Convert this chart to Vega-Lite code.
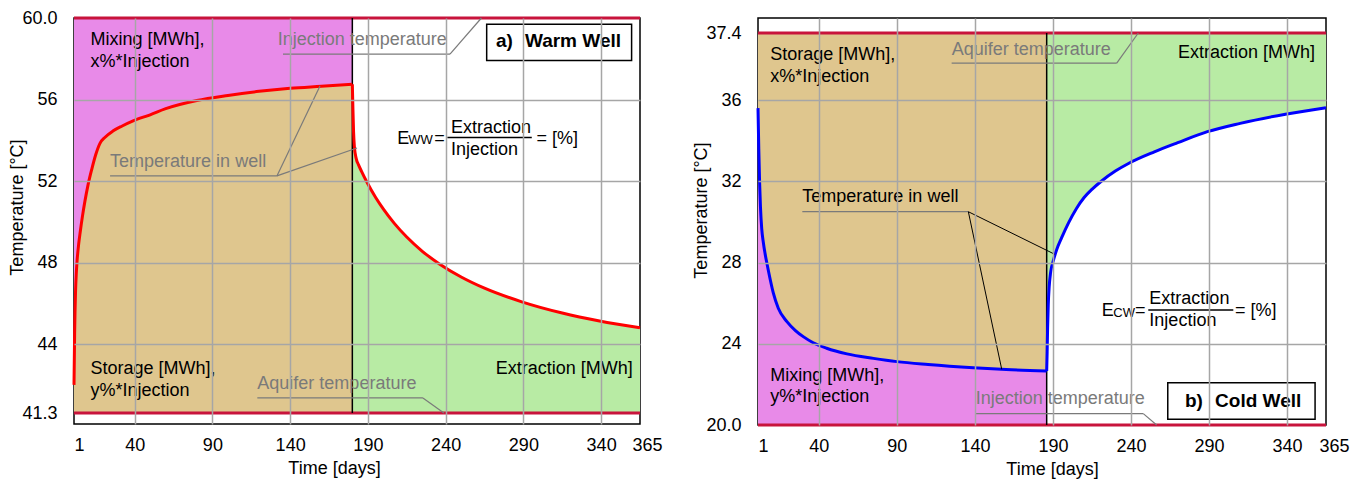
{
  "$schema": "https://vega.github.io/schema/vega-lite/v6.json",
  "background": "white",
  "padding": {"left": 8, "top": 8, "right": 5, "bottom": 3},
  "bounds": "flush",
  "spacing": 118,
  "config": {
    "font": "Liberation Sans",
    "view": {"stroke": "black", "strokeWidth": 1.5},
    "axis": {
      "labelFont": "Liberation Sans", "labelFontSize": 18, "labelColor": "#000000",
      "titleFont": "Liberation Sans", "titleFontSize": 18, "titleFontWeight": "normal", "titleColor": "#000000",
      "ticks": false, "domain": false, "grid": true, "gridColor": "#a6a6a6", "gridWidth": 1.5
    },
    "axisX": {"labelPadding": 12, "titlePadding": 5, "labelFlush": false},
    "axisY": {"labelPadding": 17, "titlePadding": -5},
    "text": {"font": "Liberation Sans", "fontSize": 18, "align": "left", "baseline": "middle"}
  },
  "datasets": {
    "warm": [
      {"day": 1, "T": 42.4, "phase": "inj"},
      {"day": 1.4, "T": 44.5, "phase": "inj"},
      {"day": 2, "T": 46.6, "phase": "inj"},
      {"day": 2.5, "T": 47.5, "phase": "inj"},
      {"day": 3, "T": 48.1, "phase": "inj"},
      {"day": 4, "T": 48.9, "phase": "inj"},
      {"day": 5, "T": 49.5, "phase": "inj"},
      {"day": 6.5, "T": 50.3, "phase": "inj"},
      {"day": 8, "T": 51.0, "phase": "inj"},
      {"day": 10, "T": 51.8, "phase": "inj"},
      {"day": 12.5, "T": 52.6, "phase": "inj"},
      {"day": 15, "T": 53.3, "phase": "inj"},
      {"day": 17.7, "T": 53.85, "phase": "inj"},
      {"day": 21, "T": 54.15, "phase": "inj"},
      {"day": 26, "T": 54.45, "phase": "inj"},
      {"day": 32, "T": 54.7, "phase": "inj"},
      {"day": 39, "T": 54.95, "phase": "inj"},
      {"day": 50, "T": 55.25, "phase": "inj"},
      {"day": 60, "T": 55.55, "phase": "inj"},
      {"day": 80, "T": 55.95, "phase": "inj"},
      {"day": 100, "T": 56.2, "phase": "inj"},
      {"day": 120, "T": 56.4, "phase": "inj"},
      {"day": 140, "T": 56.55, "phase": "inj"},
      {"day": 160, "T": 56.65, "phase": "inj"},
      {"day": 180, "T": 56.75, "phase": "inj"},
      {"day": 180, "T": 56.75, "phase": "ext"},
      {"day": 180.4, "T": 55.5, "phase": "ext"},
      {"day": 180.8, "T": 54.4, "phase": "ext"},
      {"day": 181.3, "T": 53.7, "phase": "ext"},
      {"day": 182.5, "T": 53.1, "phase": "ext"},
      {"day": 184, "T": 52.79, "phase": "ext"},
      {"day": 186, "T": 52.46, "phase": "ext"},
      {"day": 189, "T": 52.0, "phase": "ext"},
      {"day": 195, "T": 51.19, "phase": "ext"},
      {"day": 200, "T": 50.62, "phase": "ext"},
      {"day": 207, "T": 49.92, "phase": "ext"},
      {"day": 215, "T": 49.25, "phase": "ext"},
      {"day": 225, "T": 48.55, "phase": "ext"},
      {"day": 236, "T": 47.93, "phase": "ext"},
      {"day": 250, "T": 47.29, "phase": "ext"},
      {"day": 265, "T": 46.74, "phase": "ext"},
      {"day": 289, "T": 46.07, "phase": "ext"},
      {"day": 315, "T": 45.52, "phase": "ext"},
      {"day": 339, "T": 45.13, "phase": "ext"},
      {"day": 365, "T": 44.8, "phase": "ext"}
    ],
    "cold": [
      {"day": 1, "T": 35.6, "phase": "inj"},
      {"day": 1.5, "T": 33.6, "phase": "inj"},
      {"day": 2, "T": 32.0, "phase": "inj"},
      {"day": 2.6, "T": 30.7, "phase": "inj"},
      {"day": 3.4, "T": 29.65, "phase": "inj"},
      {"day": 4.4, "T": 29.0, "phase": "inj"},
      {"day": 5.5, "T": 28.45, "phase": "inj"},
      {"day": 7, "T": 27.85, "phase": "inj"},
      {"day": 9, "T": 27.1, "phase": "inj"},
      {"day": 10.8, "T": 26.5, "phase": "inj"},
      {"day": 14, "T": 25.75, "phase": "inj"},
      {"day": 19.4, "T": 25.1, "phase": "inj"},
      {"day": 25, "T": 24.65, "phase": "inj"},
      {"day": 30, "T": 24.35, "phase": "inj"},
      {"day": 36.4, "T": 24.05, "phase": "inj"},
      {"day": 45, "T": 23.78, "phase": "inj"},
      {"day": 58, "T": 23.5, "phase": "inj"},
      {"day": 75, "T": 23.28, "phase": "inj"},
      {"day": 90, "T": 23.12, "phase": "inj"},
      {"day": 110, "T": 22.98, "phase": "inj"},
      {"day": 139, "T": 22.82, "phase": "inj"},
      {"day": 160, "T": 22.73, "phase": "inj"},
      {"day": 186, "T": 22.66, "phase": "inj"},
      {"day": 186, "T": 22.66, "phase": "ext"},
      {"day": 186.3, "T": 23.6, "phase": "ext"},
      {"day": 186.6, "T": 24.8, "phase": "ext"},
      {"day": 187, "T": 25.9, "phase": "ext"},
      {"day": 187.6, "T": 26.8, "phase": "ext"},
      {"day": 188.5, "T": 27.5, "phase": "ext"},
      {"day": 190.3, "T": 28.1, "phase": "ext"},
      {"day": 192.5, "T": 28.65, "phase": "ext"},
      {"day": 195.6, "T": 29.22, "phase": "ext"},
      {"day": 200, "T": 29.95, "phase": "ext"},
      {"day": 205, "T": 30.65, "phase": "ext"},
      {"day": 210, "T": 31.2, "phase": "ext"},
      {"day": 215, "T": 31.6, "phase": "ext"},
      {"day": 221, "T": 32.0, "phase": "ext"},
      {"day": 230, "T": 32.5, "phase": "ext"},
      {"day": 239, "T": 32.9, "phase": "ext"},
      {"day": 255, "T": 33.45, "phase": "ext"},
      {"day": 270, "T": 33.9, "phase": "ext"},
      {"day": 289, "T": 34.44, "phase": "ext"},
      {"day": 310, "T": 34.85, "phase": "ext"},
      {"day": 339, "T": 35.3, "phase": "ext"},
      {"day": 365, "T": 35.62, "phase": "ext"}
    ],
    "warmLevels": [
      {"day": 1, "T": 60, "day2": 365, "T2": 60, "name": "Injection temperature"},
      {"day": 1, "T": 41.3, "day2": 365, "T2": 41.3, "name": "Aquifer temperature"}
    ],
    "warmDivider": [{"day": 180, "T": 41.3, "day2": 180, "T2": 60}],
    "warmLeaders": [
      {"day": 135.4, "T": 58.23, "day2": 242.8, "T2": 58.23},
      {"day": 242.8, "T": 58.23, "day2": 263.0, "T2": 60},
      {"day": 24.2, "T": 52.25, "day2": 131.5, "T2": 52.25},
      {"day": 131.5, "T": 52.25, "day2": 159.2, "T2": 56.66},
      {"day": 131.5, "T": 52.25, "day2": 183.0, "T2": 53.62},
      {"day": 118.9, "T": 41.89, "day2": 225.4, "T2": 41.89},
      {"day": 225.4, "T": 41.89, "day2": 238.9, "T2": 41.3}
    ],
    "warmBlack": [
      {"day": 11.6, "T": 58.94, "text": "Mixing [MWh],"},
      {"day": 11.6, "T": 57.84, "text": "x%*Injection"},
      {"day": 11.6, "T": 43.01, "text": "Storage [MWh],"},
      {"day": 11.6, "T": 42.16, "text": "y%*Injection"}
    ],
    "warmRight": [{"day": 360.3, "T": 43.01, "text": "Extraction [MWh]"}],
    "warmGray": [
      {"day": 132.0, "T": 58.9, "text": "Injection temperature"},
      {"day": 24.2, "T": 52.93, "text": "Temperature in well"},
      {"day": 118.9, "T": 42.45, "text": "Aquifer temperature"}
    ],
    "warmFormula": [
      {"day": 208.9, "T": 54.08, "text": "E"},
      {"day": 232.7, "T": 54.08, "text": "="},
      {"day": 243.4, "T": 54.6, "text": "Extraction"},
      {"day": 243.4, "T": 53.53, "text": "Injection"},
      {"day": 298.5, "T": 54.05, "text": "= [%]"}
    ],
    "warmSub": [{"day": 216.0, "T": 53.99, "text": "WW"}],
    "warmBar": [{"day": 241.1, "T": 54.13, "day2": 295.4, "T2": 54.13}],
    "warmBox": [{"day": 266.4, "T": 59.69, "day2": 359.6, "T2": 57.92}],
    "warmBoxText": [
      {"day": 272.4, "T": 58.87, "text": "a)"},
      {"day": 291.0, "T": 58.87, "text": "Warm Well"}
    ],
    "coldLevels": [
      {"day": 1, "T": 37.4, "day2": 365, "T2": 37.4, "name": "Aquifer temperature"},
      {"day": 1, "T": 20, "day2": 365, "T2": 20, "name": "Injection temperature"}
    ],
    "coldDivider": [{"day": 186, "T": 20, "day2": 186, "T2": 37.4}],
    "coldLeadersGray": [
      {"day": 125.1, "T": 36.77, "day2": 230.9, "T2": 36.77},
      {"day": 230.9, "T": 36.77, "day2": 244.7, "T2": 37.4},
      {"day": 29.4, "T": 30.5, "day2": 135.8, "T2": 30.5},
      {"day": 140.5, "T": 20.56, "day2": 247.9, "T2": 20.56},
      {"day": 247.9, "T": 20.56, "day2": 256.5, "T2": 20}
    ],
    "coldLeadersBlack": [
      {"day": 135.8, "T": 30.5, "day2": 157.2, "T2": 22.74},
      {"day": 135.8, "T": 30.5, "day2": 191.3, "T2": 28.4}
    ],
    "coldBlack": [
      {"day": 8.9, "T": 36.95, "text": "Storage [MWh],"},
      {"day": 8.9, "T": 36.49, "text": "x%*Injection"},
      {"day": 29.4, "T": 31.21, "text": "Temperature in well"},
      {"day": 8.9, "T": 22.43, "text": "Mixing [MWh],"},
      {"day": 8.9, "T": 21.36, "text": "y%*Injection"}
    ],
    "coldRight": [{"day": 358.0, "T": 36.99, "text": "Extraction [MWh]"}],
    "coldGray": [
      {"day": 125.1, "T": 37.04, "text": "Aquifer temperature"},
      {"day": 140.5, "T": 21.26, "text": "Injection temperature"}
    ],
    "coldFormula": [
      {"day": 221.3, "T": 25.63, "text": "E"},
      {"day": 242.6, "T": 25.63, "text": "="},
      {"day": 251.8, "T": 26.2, "text": "Extraction"},
      {"day": 251.8, "T": 25.1, "text": "Injection"},
      {"day": 306.7, "T": 25.6, "text": "= [%]"}
    ],
    "coldSub": [{"day": 228.7, "T": 25.49, "text": "CW"}],
    "coldBar": [{"day": 251.1, "T": 25.66, "day2": 305.6, "T2": 25.66}],
    "coldBox": [{"day": 263.6, "T": 22.08, "day2": 358.0, "T2": 20.28}],
    "coldBoxText": [
      {"day": 274.6, "T": 21.18, "text": "b)"},
      {"day": 293.9, "T": 21.18, "text": "Cold Well"}
    ]
  },
  "hconcat": [
    {
      "width": 566,
      "height": 406,
      "encoding": {
        "x": {
          "field": "day", "type": "quantitative",
          "scale": {"domain": [1, 365], "nice": false, "zero": false},
          "axis": {
            "title": "Time [days]",
            "titleX": 260,
            "zindex": 1,
            "values": [1, 40, 90, 140, 190, 240, 290, 340, 365],
            "gridOpacity": {"condition": {"test": "datum.value == 1 || datum.value == 365", "value": 0}, "value": 1},
            "labelAlign": {"condition": {"test": "datum.value == 1", "value": "left"}, "value": "center"},
            "labelOffset": {"condition": {"test": "datum.value == 365", "value": 7}, "value": 0}
          }
        },
        "y": {
          "field": "T", "type": "quantitative",
          "scale": {"domain": [40.87, 41.3, 44, 60], "range": [406, 395, 326, 0], "nice": false, "zero": false},
          "axis": {
            "title": "Temperature [°C]",
            "titleY": 189,
            "zindex": 1,
            "values": [41.3, 44, 48, 52, 56, 60],
            "labelExpr": "datum.value == 60 ? '60.0' : (datum.value == 41.3 ? '41.3' : format(datum.value, 'd'))",
            "gridOpacity": {"condition": {"test": "datum.value == 60 || datum.value == 41.3", "value": 0}, "value": 1}
          }
        }
      },
      "layer": [
        {"data": {"name": "warm"}, "transform": [{"filter": "datum.phase == 'inj'"}], "mark": {"type": "area", "orient": "vertical", "interpolate": "monotone", "fill": "#e88ae8"}, "encoding": {"y2": {"datum": 60}}},
        {"data": {"name": "warm"}, "transform": [{"filter": "datum.phase == 'inj'"}], "mark": {"type": "area", "orient": "vertical", "interpolate": "monotone", "fill": "#dfc68e"}, "encoding": {"y2": {"datum": 41.3}}},
        {"data": {"name": "warm"}, "transform": [{"filter": "datum.phase == 'ext'"}], "mark": {"type": "area", "orient": "vertical", "interpolate": "monotone", "fill": "#b8eba4"}, "encoding": {"y2": {"datum": 41.3}}},
        {"data": {"name": "warmLevels"}, "mark": {"type": "rule", "color": "#c8143c", "strokeWidth": 3}, "encoding": {"x2": {"field": "day2"}, "y2": {"field": "T2"}}},
        {"data": {"name": "warmDivider"}, "mark": {"type": "rule", "color": "#000000", "strokeWidth": 1.5}, "encoding": {"x2": {"field": "day2"}, "y2": {"field": "T2"}}},
        {"data": {"name": "warm"}, "transform": [{"filter": "datum.phase == 'inj'"}], "mark": {"type": "line", "interpolate": "monotone", "color": "#ff0000", "strokeWidth": 3}, "encoding": {}},
        {"data": {"name": "warm"}, "transform": [{"filter": "datum.phase == 'ext'"}], "mark": {"type": "line", "interpolate": "monotone", "color": "#ff0000", "strokeWidth": 3}, "encoding": {}},
        {"data": {"name": "warmLeaders"}, "mark": {"type": "rule", "color": "#7a7a7a", "strokeWidth": 1.2}, "encoding": {"x2": {"field": "day2"}, "y2": {"field": "T2"}}},
        {"data": {"name": "warmBlack"}, "mark": {"type": "text", "color": "#000000"}, "encoding": {"text": {"field": "text"}}},
        {"data": {"name": "warmRight"}, "mark": {"type": "text", "color": "#000000", "align": "right"}, "encoding": {"text": {"field": "text"}}},
        {"data": {"name": "warmGray"}, "mark": {"type": "text", "color": "#7a7a7a"}, "encoding": {"text": {"field": "text"}}},
        {"data": {"name": "warmFormula"}, "mark": {"type": "text", "color": "#000000"}, "encoding": {"text": {"field": "text"}}},
        {"data": {"name": "warmSub"}, "mark": {"type": "text", "color": "#000000", "fontSize": 13}, "encoding": {"text": {"field": "text"}}},
        {"data": {"name": "warmBar"}, "mark": {"type": "rule", "color": "#000000", "strokeWidth": 1.5}, "encoding": {"x2": {"field": "day2"}, "y2": {"field": "T2"}}},
        {"data": {"name": "warmBox"}, "mark": {"type": "rect", "fill": "#ffffff", "stroke": "#000000", "strokeWidth": 1.5}, "encoding": {"x2": {"field": "day2"}, "y2": {"field": "T2"}}},
        {"data": {"name": "warmBoxText"}, "mark": {"type": "text", "color": "#000000", "fontWeight": "bold", "fontSize": 19}, "encoding": {"text": {"field": "text"}}}
      ]
    },
    {
      "width": 568,
      "height": 407,
      "encoding": {
        "x": {
          "field": "day", "type": "quantitative",
          "scale": {"domain": [1, 365], "nice": false, "zero": false},
          "axis": {
            "title": "Time [days]",
            "titleX": 294,
            "zindex": 1,
            "values": [1, 40, 90, 140, 190, 240, 290, 340, 365],
            "gridOpacity": {"condition": {"test": "datum.value == 1 || datum.value == 365", "value": 0}, "value": 1},
            "labelAlign": {"condition": {"test": "datum.value == 1", "value": "left"}, "value": "center"},
            "labelOffset": {"condition": {"test": "datum.value == 365", "value": 8}, "value": 0}
          }
        },
        "y": {
          "field": "T", "type": "quantitative",
          "scale": {"domain": [20, 36, 37.4, 37.71], "range": [407, 82, 15, 0], "nice": false, "zero": false},
          "axis": {
            "title": "Temperature [°C]",
            "titleY": 192,
            "zindex": 1,
            "values": [20, 24, 28, 32, 36, 37.4],
            "labelExpr": "datum.value == 20 ? '20.0' : (datum.value == 37.4 ? '37.4' : format(datum.value, 'd'))",
            "gridOpacity": {"condition": {"test": "datum.value == 20 || datum.value == 37.4", "value": 0}, "value": 1}
          }
        }
      },
      "layer": [
        {"data": {"name": "cold"}, "transform": [{"filter": "datum.phase == 'inj'"}], "mark": {"type": "area", "orient": "vertical", "interpolate": "monotone", "fill": "#dfc68e"}, "encoding": {"y2": {"datum": 37.4}}},
        {"data": {"name": "cold"}, "transform": [{"filter": "datum.phase == 'inj'"}], "mark": {"type": "area", "orient": "vertical", "interpolate": "monotone", "fill": "#e88ae8"}, "encoding": {"y2": {"datum": 20}}},
        {"data": {"name": "cold"}, "transform": [{"filter": "datum.phase == 'ext'"}], "mark": {"type": "area", "orient": "vertical", "interpolate": "monotone", "fill": "#b8eba4"}, "encoding": {"y2": {"datum": 37.4}}},
        {"data": {"name": "coldLevels"}, "mark": {"type": "rule", "color": "#c8143c", "strokeWidth": 3}, "encoding": {"x2": {"field": "day2"}, "y2": {"field": "T2"}}},
        {"data": {"name": "coldDivider"}, "mark": {"type": "rule", "color": "#000000", "strokeWidth": 1.5}, "encoding": {"x2": {"field": "day2"}, "y2": {"field": "T2"}}},
        {"data": {"name": "cold"}, "transform": [{"filter": "datum.phase == 'inj'"}], "mark": {"type": "line", "interpolate": "monotone", "color": "#0000ff", "strokeWidth": 3}, "encoding": {}},
        {"data": {"name": "cold"}, "transform": [{"filter": "datum.phase == 'ext'"}], "mark": {"type": "line", "interpolate": "monotone", "color": "#0000ff", "strokeWidth": 3}, "encoding": {}},
        {"data": {"name": "coldLeadersGray"}, "mark": {"type": "rule", "color": "#7a7a7a", "strokeWidth": 1.2}, "encoding": {"x2": {"field": "day2"}, "y2": {"field": "T2"}}},
        {"data": {"name": "coldLeadersBlack"}, "mark": {"type": "rule", "color": "#000000", "strokeWidth": 1}, "encoding": {"x2": {"field": "day2"}, "y2": {"field": "T2"}}},
        {"data": {"name": "coldBlack"}, "mark": {"type": "text", "color": "#000000"}, "encoding": {"text": {"field": "text"}}},
        {"data": {"name": "coldRight"}, "mark": {"type": "text", "color": "#000000", "align": "right"}, "encoding": {"text": {"field": "text"}}},
        {"data": {"name": "coldGray"}, "mark": {"type": "text", "color": "#7a7a7a"}, "encoding": {"text": {"field": "text"}}},
        {"data": {"name": "coldFormula"}, "mark": {"type": "text", "color": "#000000"}, "encoding": {"text": {"field": "text"}}},
        {"data": {"name": "coldSub"}, "mark": {"type": "text", "color": "#000000", "fontSize": 13}, "encoding": {"text": {"field": "text"}}},
        {"data": {"name": "coldBar"}, "mark": {"type": "rule", "color": "#000000", "strokeWidth": 1.5}, "encoding": {"x2": {"field": "day2"}, "y2": {"field": "T2"}}},
        {"data": {"name": "coldBox"}, "mark": {"type": "rect", "fill": "#ffffff", "stroke": "#000000", "strokeWidth": 1.5}, "encoding": {"x2": {"field": "day2"}, "y2": {"field": "T2"}}},
        {"data": {"name": "coldBoxText"}, "mark": {"type": "text", "color": "#000000", "fontWeight": "bold", "fontSize": 19}, "encoding": {"text": {"field": "text"}}}
      ]
    }
  ]
}
